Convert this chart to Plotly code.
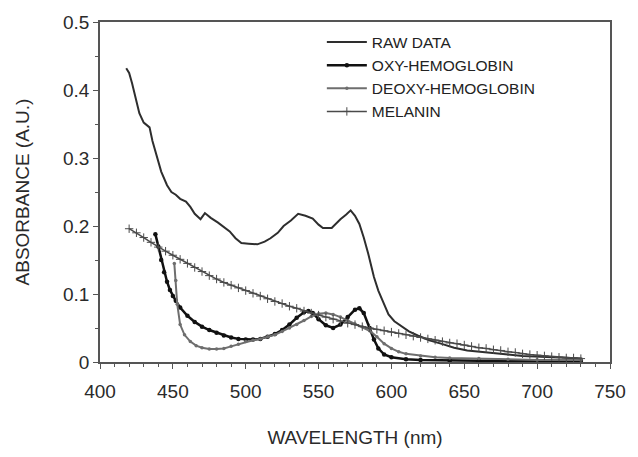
import plotly.graph_objects as go

# ---------------- data ----------------
raw_wl = [418, 420, 422, 425, 427, 430, 432, 434, 436, 439, 442, 446, 449, 452, 455, 459,
          462, 465, 469, 472, 476, 481, 485, 489, 493, 497, 502, 508, 513, 517, 522, 526,
          531, 536, 541, 546, 550, 553, 559, 565, 569, 572, 575, 578, 581, 584, 588, 591,
          594, 598, 602, 607, 612, 618, 626, 634, 643, 652, 660, 668, 680, 690, 700, 713,
          722, 731]
raw_abs = [0.432, 0.425, 0.41, 0.385, 0.366, 0.352, 0.348, 0.345, 0.325, 0.303, 0.28, 0.26,
           0.25, 0.246, 0.24, 0.236, 0.228, 0.218, 0.21, 0.219, 0.212, 0.205, 0.198, 0.192,
           0.182, 0.175, 0.174, 0.173, 0.177, 0.182, 0.19, 0.2, 0.208, 0.218, 0.215, 0.211,
           0.202, 0.197, 0.197, 0.21, 0.217, 0.223, 0.215, 0.203, 0.183, 0.16, 0.125, 0.105,
           0.09, 0.07, 0.06, 0.052, 0.045, 0.039, 0.032, 0.027, 0.021, 0.017, 0.015, 0.013,
           0.011, 0.009, 0.008, 0.006, 0.005, 0.005]

oxy_wl = [438, 440, 442, 444, 446, 448, 450, 452, 455, 460, 465, 470, 475, 480, 485, 490,
          495, 500, 505, 510, 515, 520, 525, 530, 535, 540, 543, 546, 550, 555, 560, 565,
          570, 575, 578, 581, 585, 588, 591, 595, 600, 610, 620, 640, 660, 680, 700, 730]
oxy_abs = [0.188, 0.17, 0.15, 0.132, 0.118, 0.106, 0.097, 0.09, 0.08, 0.068, 0.059, 0.052,
           0.047, 0.043, 0.039, 0.036, 0.034, 0.033, 0.033, 0.034, 0.037, 0.041, 0.047,
           0.055, 0.065, 0.073, 0.075, 0.072, 0.063, 0.054, 0.05, 0.055, 0.066, 0.077,
           0.079, 0.072, 0.05, 0.033, 0.02, 0.011, 0.007, 0.004, 0.003, 0.002, 0.002,
           0.002, 0.002, 0.002]

deoxy_wl = [451, 452, 453, 455, 458, 462, 466, 470, 475, 480, 485, 490, 495, 500, 505, 510,
            515, 520, 525, 530, 535, 540, 545, 550, 555, 560, 565, 570, 575, 580, 585, 590,
            595, 600, 605, 610, 620, 630, 640, 660, 680, 700, 730]
deoxy_abs = [0.145, 0.12, 0.085, 0.055, 0.04, 0.03, 0.024, 0.021, 0.019, 0.019, 0.02, 0.023,
             0.026, 0.03, 0.032, 0.034, 0.037, 0.04, 0.045, 0.05, 0.055, 0.061, 0.067, 0.071,
             0.072, 0.07, 0.066, 0.061, 0.056, 0.052, 0.046, 0.037, 0.027, 0.02, 0.015,
             0.012, 0.009, 0.007, 0.006, 0.005, 0.004, 0.003, 0.003]

mel_wl = [420, 425, 430, 435, 440, 445, 450, 455, 460, 465, 470, 475, 480, 485, 490, 495,
          500, 505, 510, 515, 520, 525, 530, 535, 540, 545, 550, 555, 560, 565, 570, 575,
          580, 585, 590, 595, 600, 605, 610, 615, 620, 625, 630, 635, 640, 645, 650, 655,
          660, 665, 670, 675, 680, 685, 690, 695, 700, 705, 710, 715, 720, 725, 730]
mel_abs = [0.196, 0.19, 0.183, 0.176, 0.169, 0.163, 0.157, 0.151, 0.145, 0.139, 0.133, 0.127,
           0.122, 0.117, 0.113, 0.109, 0.105, 0.101, 0.097, 0.093, 0.089, 0.086, 0.082,
           0.079, 0.075, 0.072, 0.069, 0.066, 0.063, 0.06, 0.057, 0.055, 0.052, 0.05, 0.048,
           0.046, 0.044, 0.042, 0.04, 0.038, 0.036, 0.034, 0.032, 0.03, 0.028, 0.027, 0.025,
           0.023, 0.021, 0.02, 0.018, 0.017, 0.015, 0.014, 0.012, 0.011, 0.01, 0.009, 0.008,
           0.007, 0.006, 0.006, 0.005]

x_ticks = [400, 450, 500, 550, 600, 650, 700, 750]
y_ticks = [0, 0.1, 0.2, 0.3, 0.4, 0.5]

FONT = "Liberation Sans, Arial, sans-serif"

fig = go.Figure()
fig.add_trace(go.Scatter(x=raw_wl, y=raw_abs, mode="lines", name="RAW DATA",
                         line=dict(color="#2e2e2e", width=2)))
fig.add_trace(go.Scatter(x=oxy_wl, y=oxy_abs, mode="lines+markers", name="OXY-HEMOGLOBIN",
                         line=dict(color="#111111", width=2.5),
                         marker=dict(symbol="circle", size=4.5, color="#111111")))
fig.add_trace(go.Scatter(x=deoxy_wl, y=deoxy_abs, mode="lines+markers", name="DEOXY-HEMOGLOBIN",
                         line=dict(color="#6e6e6e", width=2),
                         marker=dict(symbol="circle", size=3.5, color="#6e6e6e")))
fig.add_trace(go.Scatter(x=mel_wl, y=mel_abs, mode="lines+markers", name="MELANIN",
                         line=dict(color="#4a4a4a", width=1.5),
                         marker=dict(symbol="cross-thin", size=6,
                                     line=dict(width=1, color="#4a4a4a"))))

axis_common = dict(showline=True, linecolor="#555555", linewidth=1.5, mirror=True,
                   showgrid=False, zeroline=False, ticks="outside", ticklen=5,
                   tickcolor="#555555", tickwidth=1.2,
                   tickfont=dict(family=FONT, size=19, color="#2a2a2a"))

fig.update_xaxes(range=[400, 750], tickvals=x_ticks, ticklabelstandoff=6,
                 minor=dict(dtick=10, ticks="outside", ticklen=3, tickcolor="#555555"),
                 title=dict(text="WAVELENGTH (nm)", font=dict(family=FONT, size=19, color="#2a2a2a"),
                            standoff=30),
                 **axis_common)
fig.update_yaxes(range=[0, 0.5], tickvals=y_ticks,
                 minor=dict(dtick=0.05, ticks="outside", ticklen=3, tickcolor="#555555"),
                 title=dict(text="ABSORBANCE (A.U.)", font=dict(family=FONT, size=19, color="#2a2a2a"),
                            standoff=28),
                 **axis_common)

fig.update_layout(
    width=638, height=457,
    margin=dict(l=100, r=20, t=16, b=93),
    paper_bgcolor="white", plot_bgcolor="white",
    showlegend=True,
    legend=dict(x=0.435, y=0.99, xanchor="left", yanchor="top",
                font=dict(family=FONT, size=15.5, color="#222222"),
                bgcolor="rgba(0,0,0,0)", itemwidth=40, tracegroupgap=0),
)

fig.write_html("out.html")
